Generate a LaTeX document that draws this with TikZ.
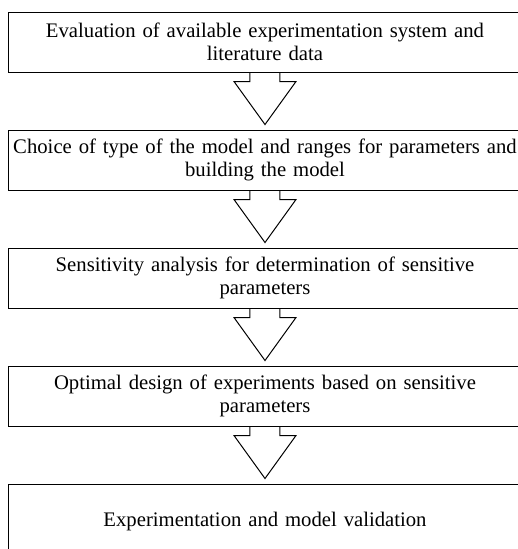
\documentclass[tikz,border=0pt]{standalone}
\usepackage{fontspec}
\setmainfont{Liberation Serif}
\usetikzlibrary{positioning,calc}
\newcommand{\hollowdown}[2]{%
\draw [flowarrow] ($(#1.south)+(-15pt,0)$) -- ++(0,-9pt) -- ++(-16pt,0)
  -- ($(#2.north)+(0,5pt)$) -- ($(#1.south)+(31pt,-9pt)$) -- ++(-16pt,0) -- ++(0,9pt);}
\begin{document}
\begin{tikzpicture}[
stage/.style={draw=black, line width=1pt, rectangle, minimum width=513pt, minimum height=60pt,
  text width=505pt, align=center, inner sep=0pt, font=\fontsize{20.7pt}{23.5pt}\selectfont},
flowarrow/.style={draw=black, line width=1pt, line join=miter}]
\useasboundingbox (-265pt,42pt) rectangle (253pt,-507pt);
\clip (-265pt,42pt) rectangle (253pt,-507pt);
\node [stage] (eval) at (0,0) {Evaluation of available experimentation system and\\ literature data};
\node [stage, below=57pt of eval] (choice) {Choice of type of the model and ranges for parameters and\\ building the model};
\node [stage, below=57pt of choice] (sens) {Sensitivity analysis for determination of sensitive\\ parameters};
\node [stage, below=57pt of sens] (design) {Optimal design of experiments based on sensitive\\ parameters};
\node [stage, minimum height=76pt, below=57pt of design] (valid) {Experimentation and model validation};
\hollowdown{eval}{choice}
\hollowdown{choice}{sens}
\hollowdown{sens}{design}
\hollowdown{design}{valid}
\end{tikzpicture}
\end{document}
